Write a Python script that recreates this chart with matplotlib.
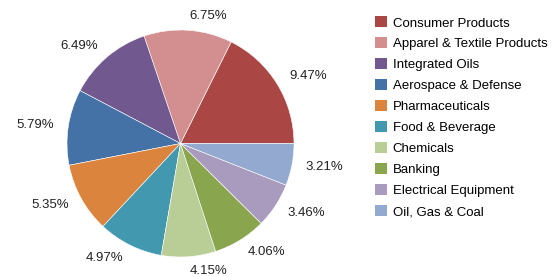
import matplotlib
matplotlib.use("Agg")
import matplotlib.pyplot as plt
from matplotlib.patches import Patch

categories = ["Consumer Products", "Apparel & Textile Products", "Integrated Oils",
              "Aerospace & Defense", "Pharmaceuticals", "Food & Beverage",
              "Chemicals", "Banking", "Electrical Equipment", "Oil, Gas & Coal"]
values = [9.47, 6.75, 6.49, 5.79, 5.35, 4.97, 4.15, 4.06, 3.46, 3.21]
colors = ["#AA4643", "#D38F8F", "#71588F", "#4471A6", "#DB843D",
          "#4198AF", "#B9CD96", "#89A54E", "#A99BBD", "#93A9CF"]

plt.rcParams['font.family'] = ['Liberation Sans', 'DejaVu Sans']

fig = plt.figure(figsize=(5.51, 2.77), dpi=100)
ax = fig.add_axes([67/551, 20/277, 227/551, 227/277])
labels = [f"{v:.2f}%" for v in values]
wedges, texts = ax.pie(values, colors=colors, startangle=0, counterclock=True,
                       labels=labels, labeldistance=1.125,
                       wedgeprops=dict(edgecolor="white", linewidth=0.4),
                       textprops=dict(fontsize=9.5, color="#222222"))
for t in texts:
    t.set_clip_on(False)
ax.set_xlim(-1, 1)
ax.set_ylim(-1, 1)
ax.set_aspect("equal")

handles = [Patch(facecolor=c, edgecolor="none") for c in colors]
fig.legend(handles, categories, loc="upper left", bbox_to_anchor=(375/551, 1 - 16.5/277),
           frameon=False, fontsize=9.5, handlelength=0.9, handleheight=0.9,
           handletextpad=0.45, labelspacing=0.6, borderaxespad=0, borderpad=0)
fig.savefig("out.png", dpi=100)
